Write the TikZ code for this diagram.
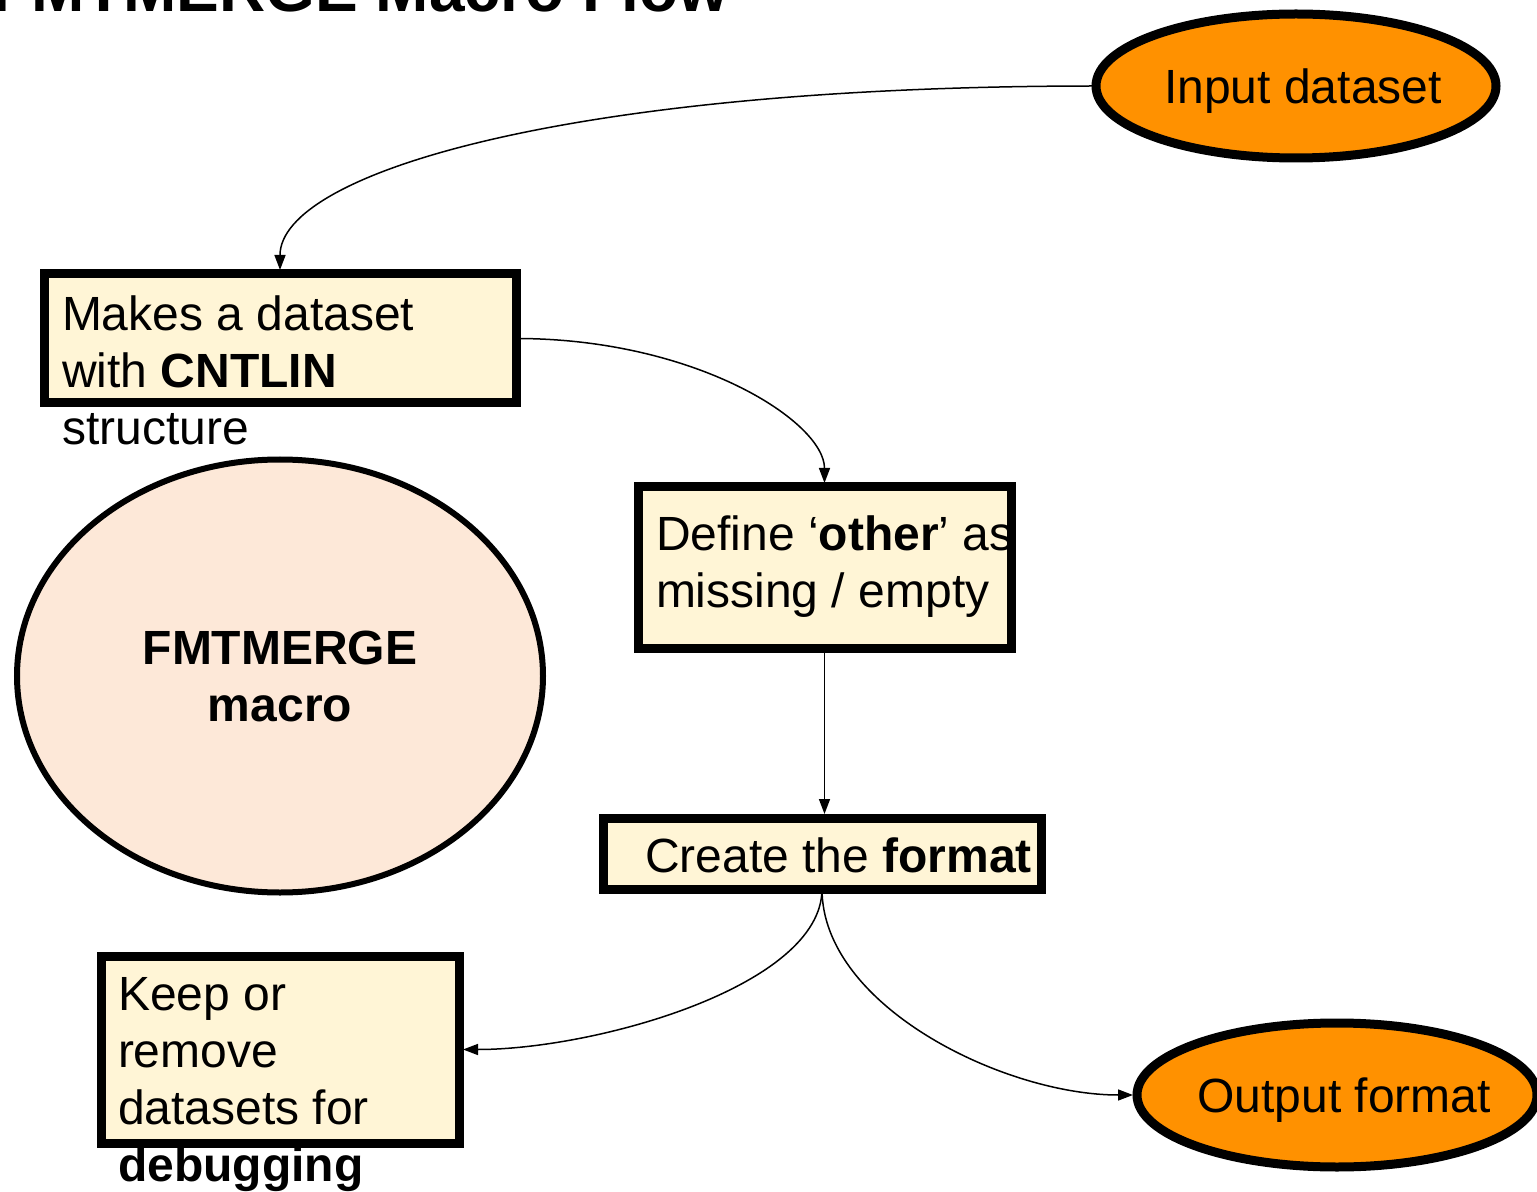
\documentclass[tikz,border=0pt]{standalone}
\usepackage{fontspec}
\setmainfont{Liberation Sans}
\usetikzlibrary{shapes.geometric,arrows.meta}
\definecolor{dataorange}{HTML}{FF9100}
\definecolor{stepfill}{HTML}{FFF5D6}
\definecolor{macrofill}{HTML}{FDE8D8}

\begin{document}
\begin{tikzpicture}[x=0.5pt,y=-0.5pt,inner sep=0pt,outer sep=0pt,
		font=\fontsize{24}{28.5}\selectfont,
		stepbox/.style={draw,rectangle,line width=4.5pt,fill=stepfill},
		dataoval/.style={draw,ellipse,line width=4.5pt,fill=dataorange,minimum width=200pt,minimum height=72pt,text depth=0pt},
		steptext/.style={anchor=north west,align=left},
		flow/.style={-{Triangle[length=7.5pt,width=5.5pt]},line width=0.75pt,shorten >=2pt}]
		\useasboundingbox (0,0) rectangle (1537,1192);
		\node[anchor=base west,font=\fontsize{32}{38}\selectfont\bfseries] (title) at (-8,12) {FMTMERGE Macro Flow};
		\node[dataoval] (input) at (1296,86) {\makebox[0pt]{\hspace*{7pt}Input dataset}};
		\node[stepbox,minimum width=236pt,minimum height=64.5pt] (cntlin) at (280,338.5) {};
		\node[steptext] (cntlintxt) at (62,296) {Makes a dataset\\with \textbf{CNTLIN}\\structure};
		\node[draw,ellipse,line width=3pt,fill=macrofill,minimum width=263pt,minimum height=216.5pt,align=center,font=\fontsize{24}{28.5}\selectfont\bfseries] (macro) at (280,676) {FMTMERGE\\macro};
		\node[stepbox,minimum width=186.5pt,minimum height=80.5pt] (other) at (824.5,567.5) {};
		\node[steptext] (othertxt) at (656,516) {Define ‘\textbf{other}’ as\\missing / empty};
		\node[stepbox,minimum width=219pt,minimum height=35.5pt] (format) at (822,853.5) {};
		\node[steptext] (formattxt) at (645,838) {Create the \textbf{format}};
		\node[stepbox,minimum width=179pt,minimum height=93.5pt] (keep) at (280,1049.5) {};
		\node[steptext] (keeptxt) at (118,977) {Keep or\\remove\\datasets for\\\textbf{debugging}};
		\node[dataoval] (output) at (1337,1095) {\makebox[0pt]{\hspace*{7pt}Output format}};
		\draw[flow] (input.west) .. controls +(-532,0) and +(0,-100) .. (cntlin.north);
		\draw[flow] (cntlin.east) .. controls +(180,0) and +(0,-65) .. (other.north);
		\draw[flow] (other.south) -- (other.south |- format.north);
		\draw[flow] (format.south) .. controls +(0,97) and +(137,0) .. (keep.east);
		\draw[flow] (format.south) .. controls +(0,117) and +(-133,0) .. (output.west);
	\end{tikzpicture}
\end{document}
